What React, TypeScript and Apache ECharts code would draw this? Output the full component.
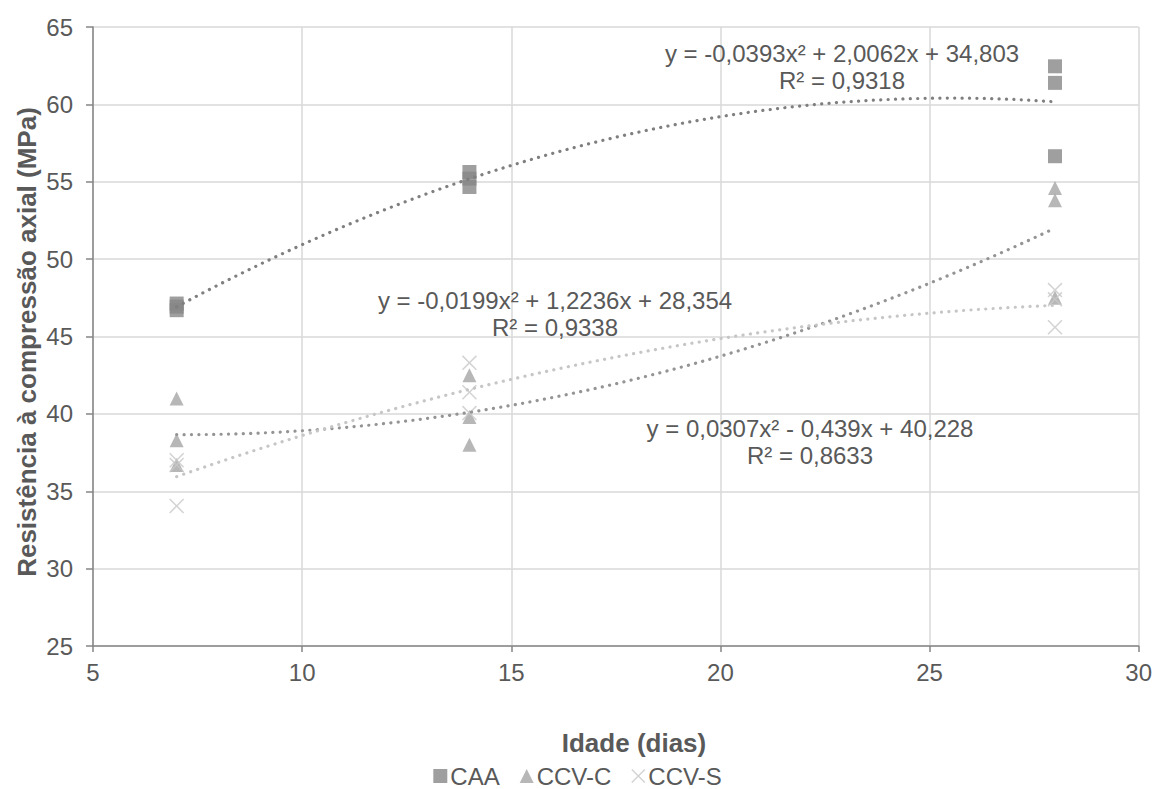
import React, { useEffect, useRef } from "react";
import * as echarts from "echarts";

// ---- data ----
const ages = [7, 14, 28];
const caaValues = [
  [47.13, 46.93, 46.7],
  [55.63, 55.2, 54.66],
  [62.46, 61.39, 56.65],
];
const ccvcValues = [
  [41.0, 38.3, 36.7],
  [42.5, 39.8, 38.0],
  [54.6, 53.8, 47.5],
];
const ccvsValues = [
  [37.0, 36.7, 34.05],
  [43.3, 41.4, 40.05],
  [48.0, 47.4, 45.6],
];
// polynomial trendline coefficients shown on the chart [a, b, c] for a x^2 + b x + c
const caaTrend = [-0.0393, 2.0062, 34.803];
const ccvcTrend = [0.0307, -0.439, 40.228];
const ccvsTrend = [-0.0199, 1.2236, 28.354];

const caaLabel = ["y = -0,0393x² + 2,0062x + 34,803", "R² = 0,9318"];
const ccvsLabel = ["y = -0,0199x² + 1,2236x + 28,354", "R² = 0,9338"];
const ccvcLabel = ["y = 0,0307x² - 0,439x + 40,228", "R² = 0,8633"];

const seriesNames = ["CAA", "CCV-C", "CCV-S"];
const xTitle = "Idade (dias)";
const yTitle = "Resistência à compressão axial (MPa)";

const FONT = "'Liberation Sans', Arial, sans-serif";
const TEXT = "#595959";

function toPoints(values: number[][]) {
  const out: number[][] = [];
  ages.forEach((a, i) => values[i].forEach((v) => out.push([a, v])));
  return out;
}

function trendPoints(coef: number[]) {
  const out: number[][] = [];
  const x0 = ages[0];
  const x1 = ages[ages.length - 1];
  const steps = 84;
  for (let k = 0; k <= steps; k++) {
    const x = x0 + ((x1 - x0) * k) / steps;
    out.push([x, coef[0] * x * x + coef[1] * x + coef[2]]);
  }
  return out;
}

const crossPath =
  "path://M0,1L1,0L7,6L13,0L14,1L8,7L14,13L13,14L7,8L1,14L0,13L6,7Z";

export default function App() {
  const ref = useRef<HTMLDivElement>(null);
  useEffect(() => {
    if (!ref.current) return;
    const chart = echarts.init(ref.current, undefined, { renderer: "svg" });

    const eqText = (lines: string[], cx: number, cy: number) => [
      {
        type: "text",
        x: cx,
        y: cy,
        style: {
          text: lines[0],
          fill: TEXT,
          font: `24px ${FONT}`,
          textAlign: "center",
          textVerticalAlign: "middle",
        },
        z: 10,
      },
      {
        type: "text",
        x: cx,
        y: cy + 27,
        style: {
          text: lines[1],
          fill: TEXT,
          font: `24px ${FONT}`,
          textAlign: "center",
          textVerticalAlign: "middle",
        },
        z: 10,
      },
    ];

    const trendLine = (coef: number[], color: string) => ({
      type: "line",
      data: trendPoints(coef),
      showSymbol: false,
      symbol: "none",
      smooth: false,
      silent: true,
      z: 5,
      lineStyle: { color, width: 3.2, type: [0.1, 7.3], cap: "round" },
    });

    chart.setOption({
      animation: false,
      backgroundColor: "#ffffff",
      grid: { left: 93, right: 16, top: 27, bottom: 143, containLabel: false },
      xAxis: {
        type: "value",
        min: 5,
        max: 30,
        interval: 5,
        axisLine: { show: true, lineStyle: { color: "#868686", width: 1.5 } },
        axisTick: { show: true, length: 6, lineStyle: { color: "#868686", width: 1.5 } },
        axisLabel: { fontFamily: FONT, fontSize: 24, color: TEXT, margin: 14 },
        splitLine: { show: true, lineStyle: { color: "#d9d9d9", width: 1.5 } },
      },
      yAxis: {
        type: "value",
        min: 25,
        max: 65,
        interval: 5,
        axisLine: { show: true, lineStyle: { color: "#868686", width: 1.5 } },
        axisTick: { show: true, length: 7, lineStyle: { color: "#868686", width: 1.5 } },
        axisLabel: { fontFamily: FONT, fontSize: 24, color: TEXT, margin: 20 },
        splitLine: { show: true, lineStyle: { color: "#d9d9d9", width: 1.5 } },
      },
      legend: {
        data: seriesNames,
        top: 764,
        left: "center",
        padding: 0,
        itemWidth: 14,
        itemHeight: 14,
        itemGap: 20,
        textStyle: { fontFamily: FONT, fontSize: 24, color: TEXT, padding: [0, 0, 0, -2] },
      },
      graphic: [
        ...eqText(caaLabel, 842, 53),
        ...eqText(ccvsLabel, 555, 300),
        ...eqText(ccvcLabel, 810, 428),
        {
          type: "text",
          x: 634,
          y: 743,
          style: {
            text: xTitle,
            fill: TEXT,
            font: `bold 26px ${FONT}`,
            textAlign: "center",
            textVerticalAlign: "middle",
          },
        },
        {
          type: "text",
          x: 27,
          y: 342,
          rotation: Math.PI / 2,
          style: {
            text: yTitle,
            fill: TEXT,
            font: `bold 26px ${FONT}`,
            textAlign: "center",
            textVerticalAlign: "middle",
          },
        },
      ],
      series: [
        {
          name: seriesNames[0],
          type: "scatter",
          data: toPoints(caaValues),
          symbol: "rect",
          symbolSize: 14,
          itemStyle: { color: "#878787" },
          z: 3,
        },
        {
          name: seriesNames[1],
          type: "scatter",
          data: toPoints(ccvcValues),
          symbol: "triangle",
          symbolSize: 14,
          itemStyle: { color: "#a5a5a5" },
          z: 3,
        },
        {
          name: seriesNames[2],
          type: "scatter",
          data: toPoints(ccvsValues),
          symbol: crossPath,
          symbolSize: 15,
          itemStyle: { color: "#c8c8c8" },
          z: 3,
        },
        trendLine(caaTrend, "#7f7f7f"),
        trendLine(ccvcTrend, "#949494"),
        trendLine(ccvsTrend, "#c6c6c6"),
      ],
    });
    return () => chart.dispose();
  }, []);

  return (
    <div
      ref={ref}
      style={{ position: "fixed", left: 0, top: 0, width: 1155, height: 789 }}
    />
  );
}
